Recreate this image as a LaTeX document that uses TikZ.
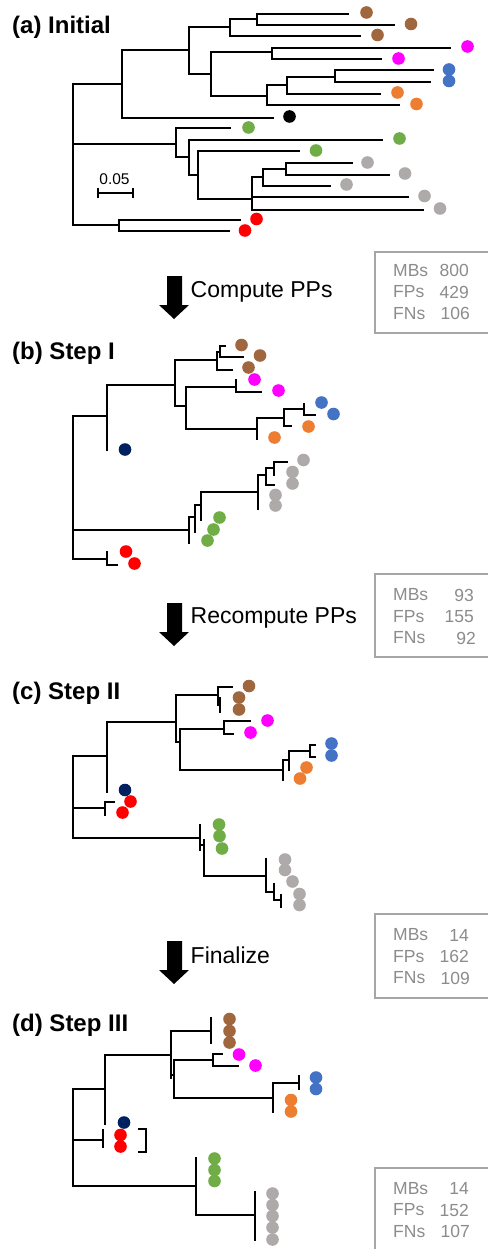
\documentclass[tikz,border=0pt]{standalone}
\usepackage{fontspec}
\setmainfont{Liberation Sans}

\definecolor{tbrown}{HTML}{A0673F}
\definecolor{tmagenta}{HTML}{FF00FF}
\definecolor{tblue}{HTML}{4472C4}
\definecolor{torange}{HTML}{ED7D31}
\definecolor{tgreen}{HTML}{70AD47}
\definecolor{tgray}{HTML}{AEAAAA}
\definecolor{tred}{HTML}{FF0000}
\definecolor{tnavy}{HTML}{002060}
\definecolor{statgray}{HTML}{8C8C8C}
\definecolor{boxgray}{HTML}{A6A6A6}

\newcommand\tips[2]{\foreach \p in {#2} \fill[#1] \p circle (6.3pt);}

\begin{document}
\begin{tikzpicture}[x=1pt, y=-1pt,
    branch/.style={line width=2.4pt, line cap=rect},
    title/.style={anchor=west, inner sep=0pt, font=\fontsize{24}{28}\selectfont\bfseries},
    steptext/.style={anchor=west, inner sep=0pt, font=\fontsize{23}{27}\selectfont},
    statbox/.style={draw=boxgray, line width=2pt},
    statkey/.style={anchor=west, inner sep=0pt, text=statgray, font=\fontsize{17.5}{20}\selectfont},
    statval/.style={anchor=east, inner sep=0pt, text=statgray, font=\fontsize{17.5}{20}\selectfont}]
    \useasboundingbox[fill=white] (0,0) rectangle (487,1249);

    % titles
    \node[title] (titleA) at (12,27) {(a) Initial};
    \node[title] (titleB) at (12,353.5) {(b) Step I};
    \node[title] (titleC) at (12,693.5) {(c) Step II};
    \node[title] (titleD) at (12,1025) {(d) Step III};

    % block arrows between the panels
    \foreach \y in {276,603,941}
        \fill (167,\y) -- (182,\y) -- (182,\y+29) -- (189,\y+29) -- (174,\y+43)
              -- (159,\y+29) -- (167,\y+29) -- cycle;
    \node[steptext] (stepAB) at (190.5,291.5) {Compute PPs};
    \node[steptext] (stepBC) at (190.5,617.5) {Recompute PPs};
    \node[steptext] (stepCD) at (190.5,955) {Finalize};

    % counts
    \draw[statbox] (375,252) rectangle (495,333);
    \node[statkey] (mbsA) at (393,270.5) {MBs}; \node[statval] at (469,270.5) {800};
    \node[statkey] (fpsA) at (393,292) {FPs};   \node[statval] at (469,292) {429};
    \node[statkey] (fnsA) at (393,313.5) {FNs}; \node[statval] at (470,313.5) {106};

    \draw[statbox] (375,574) rectangle (495,657);
    \node[statkey] (mbsB) at (393,595) {MBs};   \node[statval] at (474,595) {93};
    \node[statkey] (fpsB) at (393,616.5) {FPs}; \node[statval] at (474,616.5) {155};
    \node[statkey] (fnsB) at (393,638) {FNs};   \node[statval] at (476,638) {92};

    \draw[statbox] (375,914) rectangle (495,998);
    \node[statkey] (mbsC) at (393,935) {MBs};   \node[statval] at (469,935) {14};
    \node[statkey] (fpsC) at (393,956.5) {FPs}; \node[statval] at (469,956.5) {162};
    \node[statkey] (fnsC) at (393,978) {FNs};   \node[statval] at (470,978) {109};

    \draw[statbox] (375,1168) rectangle (495,1262);
    \node[statkey] (mbsD) at (393,1188.5) {MBs}; \node[statval] at (469,1188.5) {14};
    \node[statkey] (fpsD) at (393,1210) {FPs};   \node[statval] at (469,1210) {152};
    \node[statkey] (fnsD) at (393,1231.5) {FNs}; \node[statval] at (470,1231.5) {107};

    % (a) initial tree
    \draw[branch] (73,84) -- (73,225)
        (73,84) -- (122,84) (122,50) -- (122,118)
        (122,50) -- (189,50) (189,27) -- (189,74)
        (189,27) -- (230,27) (230,19) -- (230,36)
        (230,19) -- (257,19) (257,14) -- (257,25)
        (257,14) -- (348,14) (257,25) -- (394,25) (230,36) -- (360,36)
        (189,74) -- (211,74) (211,52) -- (211,96)
        (211,52) -- (272,52) (272,48) -- (272,59)
        (272,48) -- (450,48) (272,59) -- (381,59)
        (211,96) -- (267,96) (267,85) -- (267,105)
        (267,85) -- (287,85) (287,77) -- (287,94)
        (287,77) -- (335,77) (335,70) -- (335,82)
        (335,70) -- (433,70) (335,82) -- (430,82)
        (287,94) -- (380,94) (267,105) -- (399,105)
        (122,118) -- (273,118)
        (73,144) -- (176,144) (176,128) -- (176,157)
        (176,128) -- (230,128)
        (176,157) -- (189,157) (189,140) -- (189,175)
        (189,140) -- (382,140)
        (189,175) -- (198,175) (198,151) -- (198,199)
        (198,151) -- (299,151)
        (198,199) -- (252,199) (252,177) -- (252,210)
        (252,177) -- (263,177) (263,169) -- (263,186)
        (263,169) -- (286,169) (286,163) -- (286,175)
        (286,163) -- (352,163) (286,175) -- (389,175)
        (263,186) -- (330,186)
        (252,197) -- (408,197) (252,210) -- (423,210)
        (73,225) -- (119,225) (119,220) -- (119,231)
        (119,220) -- (240,220) (119,231) -- (229,231);
    \tips{tbrown}{(366.5,12.5),(411,24),(377.5,35)}
    \tips{tmagenta}{(467.5,46.5),(398.5,58.5)}
    \tips{tblue}{(449,69.5),(449,81)}
    \tips{torange}{(397.5,92.5),(416.5,104)}
    \tips{black}{(289.5,116.5)}
    \tips{tgreen}{(248.5,127.5),(399.5,138.5),(316,150.5)}
    \tips{tgray}{(367.5,162.5),(405,173.5),(346.5,184.5),(424.5,196),(440,208.5)}
    \tips{tred}{(256.5,219),(245,230.5)}
    % scale bar
    \node[inner sep=0pt, font=\fontsize{15.5}{18}\selectfont] (scaleA) at (114.5,179) {0.05};
    \draw[line width=2pt] (98,193) -- (133,193)
        (98,188) -- (98,198) (133,188) -- (133,198);

    % (b) step I
    \draw[branch] (73,416) -- (73,559)
        (73,416) -- (107,416) (107,385) -- (107,450)
        (107,385) -- (175,385) (175,360) -- (175,406)
        (175,360) -- (217,360) (217,352) -- (217,370)
        (217,352) -- (220,352) (220,346) -- (220,357)
        (220,346) -- (225,346) (220,357) -- (243,357) (217,370) -- (232,370)
        (175,406) -- (186,406) (186,387) -- (186,429)
        (186,387) -- (236,387) (236,380) -- (236,392) (236,392) -- (261,392)
        (186,429) -- (257,429) (257,418) -- (257,439)
        (257,418) -- (284,418) (284,409) -- (284,426)
        (284,409) -- (304,409) (304,404) -- (304,415) (304,415) -- (315,415)
        (284,426) -- (291,426)
        (73,530) -- (189,530) (189,517) -- (189,543)
        (189,517) -- (195,517) (195,505) -- (195,532)
        (195,505) -- (201,505) (201,492) -- (201,520)
        (201,492) -- (258,492) (258,475) -- (258,509)
        (258,475) -- (266,475) (266,468) -- (266,485)
        (266,468) -- (274,468) (274,462) -- (274,475) (274,462) -- (287,462)
        (266,485) -- (274,485)
        (73,559) -- (107,559) (107,552) -- (107,565) (107,565) -- (117,565);
    \tips{tbrown}{(241.5,345),(260,355.5),(248.5,367.5)}
    \tips{tmagenta}{(254.5,379.5),(278.5,390.5)}
    \tips{tblue}{(321.5,402.5),(333.5,414)}
    \tips{torange}{(308.5,426.5),(274.5,437.5)}
    \tips{tnavy}{(125,449.5)}
    \tips{tgreen}{(219.5,517.5),(213.5,529.5),(207.5,540.5)}
    \tips{tgray}{(303.5,460),(292.5,472),(292.5,483.5),(275.5,495),(275.5,505.5)}
    \tips{tred}{(126,551.5),(134.5,563.5)}

    % (c) step II
    \draw[branch] (73,756) -- (73,838)
        (73,756) -- (107,756) (107,722) -- (107,792)
        (107,722) -- (176,722) (176,695) -- (176,742)
        (176,695) -- (218,695) (218,687) -- (218,705)
        (218,687) -- (232,687) (218,700) -- (220,700) (220,698) -- (220,712)
        (176,742) -- (180,742) (180,729) -- (180,770)
        (180,729) -- (224,729) (224,721) -- (224,734)
        (224,721) -- (250,721) (224,734) -- (233,734)
        (180,770) -- (283,770) (283,760) -- (283,780)
        (283,760) -- (289,760) (289,751) -- (289,770)
        (289,751) -- (310,751) (310,745) -- (310,757)
        (310,745) -- (315,745) (310,757) -- (315,757)
        (73,808) -- (105,808) (105,802) -- (105,815) (105,802) -- (114,802)
        (73,838) -- (200,838) (200,825) -- (200,850)
        (200,845) -- (204,845) (204,840) -- (204,876)
        (204,876) -- (266,876) (266,859) -- (266,892)
        (266,892) -- (274,892) (274,884) -- (274,900)
        (274,900) -- (281,900) (281,895) -- (281,907);
    \tips{tbrown}{(249,686),(239,697.5),(239,709.5)}
    \tips{tmagenta}{(267.5,720.5),(250.5,732.5)}
    \tips{tblue}{(331.5,743.5),(331.5,755.5)}
    \tips{torange}{(306.5,767.5),(300,778.5)}
    \tips{tnavy}{(125,790)}
    \tips{tred}{(130.5,801.5),(122.5,812.5)}
    \tips{tgreen}{(219,824.5),(219.5,836),(222,848.5)}
    \tips{tgray}{(285,859.5),(285,870),(292.5,881.5),(299.5,894),(299.5,905)}

    % (d) step III
    \draw[branch] (73,1089) -- (73,1186)
        (73,1089) -- (105,1089) (105,1055) -- (105,1124)
        (105,1055) -- (171,1055) (171,1031) -- (171,1078)
        (171,1031) -- (211,1031) (211,1018) -- (211,1043)
        (171,1075) -- (174,1075) (174,1060) -- (174,1098)
        (174,1060) -- (213,1060) (213,1054) -- (213,1066)
        (213,1054) -- (222,1054) (213,1066) -- (238,1066)
        (174,1098) -- (273,1098) (273,1083) -- (273,1112)
        (273,1083) -- (299,1083) (299,1076) -- (299,1089)
        (73,1140) -- (103,1140) (103,1130) -- (103,1147)
        (139,1129) -- (146,1129) -- (146,1152) -- (139,1152)
        (73,1186) -- (196,1186) (196,1158) -- (196,1215)
        (196,1215) -- (255,1215) (255,1192) -- (255,1240);
    \tips{tbrown}{(229.5,1019),(229.5,1031),(229.5,1042.5)}
    \tips{tmagenta}{(239,1054.5),(255.5,1065.5)}
    \tips{tblue}{(316,1077.5),(316,1089)}
    \tips{torange}{(291,1100),(291,1111.5)}
    \tips{tnavy}{(124,1122.5)}
    \tips{tred}{(120.5,1135),(120.5,1146.5)}
    \tips{tgreen}{(214.5,1158.5),(214.5,1170),(214.5,1181)}
    \tips{tgray}{(272.5,1193.5),(272.5,1205),(272.5,1216),(272.5,1227.5),(272.5,1239.5)}
\end{tikzpicture}
\end{document}
